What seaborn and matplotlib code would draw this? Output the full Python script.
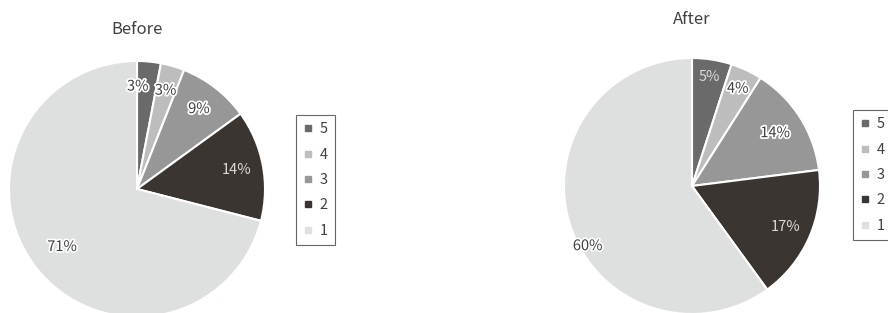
import numpy as np
import pandas as pd
import matplotlib
matplotlib.use("Agg")
import matplotlib.pyplot as plt
import matplotlib.patheffects as pe
from matplotlib.lines import Line2D
import seaborn as sns

# ---- data ----
categories = ["5", "4", "3", "2", "1"]
before_values = [3, 3, 9, 14, 71]
after_values = [5, 4, 14, 17, 60]
titles = ["Before", "After"]

sns.set_theme(style="white")
plt.rcParams["font.family"] = ["Noto Sans CJK JP", "DejaVu Sans"]

palette = sns.color_palette(["#6a6a6a", "#bdbdbd", "#979797", "#3b3532", "#dedfdf"])

df = pd.DataFrame({"category": categories, "Before": before_values, "After": after_values})

W, H = 888, 313
fig = plt.figure(figsize=(W / 100, H / 100), dpi=100)
fig.patch.set_facecolor("white")

R = 128
specs = [
    dict(col="Before", cx=137, cy=189, title_y=30,
         label_r=[0.80, 0.80, 0.79, 0.79, 0.74],
         label_dang=[5, 0, 0, 0, 0],
         label_dark=[True, True, True, False, True],
         legend_xy=(296, 115)),
    dict(col="After", cx=692, cy=186, title_y=20,
         label_r=[0.86, 0.84, 0.77, 0.80, 0.94],
         label_dang=[0, 0, 0, 0, 12],
         label_dark=[False, True, True, False, True],
         legend_xy=(853, 110)),
]

for sp in specs:
    ax = fig.add_axes([(sp["cx"] - R) / W, (H - sp["cy"] - R) / H, 2 * R / W, 2 * R / H])
    vals = df[sp["col"]].values
    wedges, _ = ax.pie(vals, colors=palette, startangle=90, counterclock=False,
                       radius=1, wedgeprops=dict(edgecolor="white", linewidth=1.5))
    ax.set_xlim(-1, 1)
    ax.set_ylim(-1, 1)
    ax.set_aspect("equal")
    ax.axis("off")
    total = vals.sum()
    for w, v, r, d, dark in zip(wedges, vals, sp["label_r"], sp["label_dang"], sp["label_dark"]):
        mid = np.deg2rad((w.theta1 + w.theta2) / 2 + d)
        txt = f"{round(100 * v / total):d}%"
        if dark:
            ax.text(r * np.cos(mid), r * np.sin(mid), txt, ha="center", va="center",
                    fontsize=10.5, color="#404040",
                    path_effects=[pe.withStroke(linewidth=2.5, foreground="white")])
        else:
            ax.text(r * np.cos(mid), r * np.sin(mid), txt, ha="center", va="center",
                    fontsize=10.5, color="#d9d9d9")
    fig.text(sp["cx"] / W, 1 - sp["title_y"] / H, sp["col"], ha="center", va="center",
             fontsize=12, color="#404040")
    handles = [Line2D([0], [0], marker="s", linestyle="none", markersize=5,
                      markerfacecolor=c, markeredgecolor=c) for c in palette]
    lx, ly = sp["legend_xy"]
    leg = fig.legend(handles, categories, loc="upper left",
                     bbox_to_anchor=(lx / W, 1 - ly / H), frameon=True, fancybox=False,
                     fontsize=10.5, labelspacing=0.78, handlelength=0.6, handletextpad=0.5,
                     borderpad=0.5, borderaxespad=0)
    leg.get_frame().set_edgecolor("#404040")
    leg.get_frame().set_linewidth(0.8)
    for t in leg.get_texts():
        t.set_color("#404040")

fig.savefig("out.png", dpi=100, facecolor="white")
